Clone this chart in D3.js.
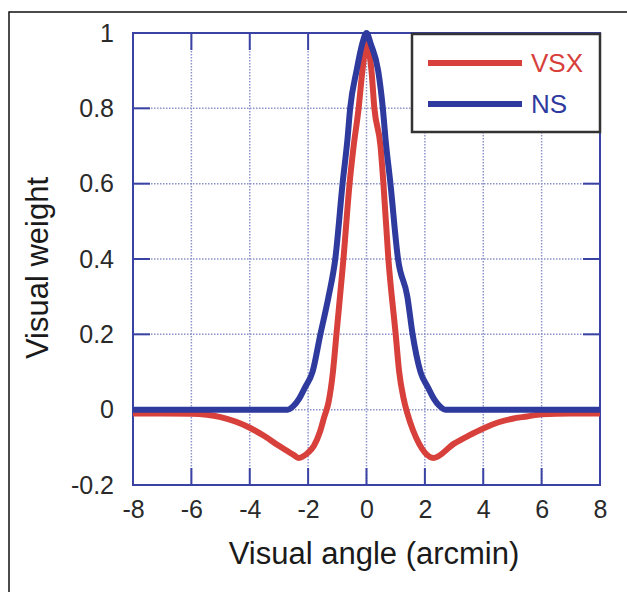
<!DOCTYPE html>
<html>
<head>
<meta charset="utf-8">
<script src="https://cdn.jsdelivr.net/npm/d3@7"></script>
<style>
  html, body { margin: 0; padding: 0; background: #fff; }
  svg { display: block; font-family: "Liberation Sans", Arial, Helvetica, sans-serif; }
</style>
</head>
<body>
<svg id="chart" width="627" height="592"></svg>
<script>
// tick values
const xTicks = [-8, -6, -4, -2, 0, 2, 4, 6, 8];
const yTicks = [-0.2, 0, 0.2, 0.4, 0.6, 0.8, 1];

// NS (blue)
const nsX = [-8, -6, -4, -3, -2.7, -2.5, -2.3, -2.1, -1.85, -1.58, -1.3, -1.07, -0.82, -0.65, -0.56, -0.34, -0.15, 0,
  0.15, 0.4, 0.56, 0.65, 0.82, 1.08, 1.4, 1.58, 1.85, 2.1, 2.3, 2.5, 2.7, 3, 4, 6, 8];
const nsY = [0, 0, 0, 0, 0, 0.01, 0.03, 0.06, 0.1, 0.2, 0.3, 0.4, 0.6, 0.72, 0.8, 0.9, 0.97, 1.0,
  0.97, 0.9, 0.8, 0.72, 0.6, 0.4, 0.3, 0.2, 0.1, 0.06, 0.03, 0.01, 0, 0, 0, 0, 0];

// VSX (red)
const vsxX = [-8, -7, -6, -5, -4, -3.5, -3, -2.5, -2.33, -2, -1.8, -1.6, -1.45, -1.3, -1.15, -1.03, -0.79, -0.58, -0.44, -0.27, -0.14, 0,
  0.17, 0.27, 0.48, 0.58, 0.75, 1.0, 1.12, 1.27, 1.4, 1.6, 1.8, 2, 2.3, 3, 3.5, 4, 4.5, 5, 5.5, 6, 7, 8];
const vsxY = [-0.01, -0.01, -0.011, -0.02, -0.048, -0.07, -0.096, -0.12, -0.128, -0.114, -0.096, -0.06, -0.02, 0.02, 0.1, 0.2, 0.4, 0.6, 0.7, 0.8, 0.9, 0.97,
  0.9, 0.8, 0.7, 0.6, 0.4, 0.2, 0.1, 0.03, -0.01, -0.056, -0.09, -0.114, -0.128, -0.09, -0.069, -0.05, -0.034, -0.024, -0.018, -0.012, -0.01, -0.01];

const seriesNames = ['VSX', 'NS'];
const seriesColors = ['#d8403b', '#2f3a9e'];

const svg = d3.select('#chart');
const plotL = 133, plotR = 600, plotT = 33, plotB = 485;
const axisColor = '#3a43a4';

const x = d3.scaleLinear().domain([-8, 8]).range([plotL, plotR]);
const y = d3.scaleLinear().domain([-0.2, 1]).range([plotB, plotT]);
const fmt = (d) => (Math.abs(d) < 1e-9 ? '0' : String(+d.toFixed(1)));

// outer frame
svg.append('rect')
  .attr('x', 9).attr('y', 12).attr('width', 700).attr('height', 700)
  .attr('fill', 'none').attr('stroke', '#111').attr('stroke-width', 1.5);

// dotted grid
const grid = svg.append('g');
grid.selectAll('line.vg')
  .data(xTicks.slice(1, -1))
  .join('line')
  .attr('class', 'vg')
  .attr('x1', (d) => x(d)).attr('x2', (d) => x(d))
  .attr('y1', plotT).attr('y2', plotB);
grid.selectAll('line.hg')
  .data(yTicks.slice(1, -1))
  .join('line')
  .attr('class', 'hg')
  .attr('x1', plotL).attr('x2', plotR)
  .attr('y1', (d) => y(d)).attr('y2', (d) => y(d));
grid.selectAll('line')
  .attr('stroke', '#8c93c9').attr('stroke-width', 1.5).attr('stroke-dasharray', '1.5,1.5');

// inner ticks
const tl = 17;
const ticks = svg.append('g').attr('stroke', axisColor).attr('stroke-width', 2);
xTicks.slice(1, -1).forEach((d) => {
  ticks.append('line').attr('x1', x(d)).attr('x2', x(d)).attr('y1', plotB).attr('y2', plotB - tl);
  ticks.append('line').attr('x1', x(d)).attr('x2', x(d)).attr('y1', plotT).attr('y2', plotT + tl);
});
yTicks.slice(1, -1).forEach((d) => {
  ticks.append('line').attr('x1', plotL).attr('x2', plotL + tl).attr('y1', y(d)).attr('y2', y(d));
  ticks.append('line').attr('x1', plotR).attr('x2', plotR - tl).attr('y1', y(d)).attr('y2', y(d));
});

// plot frame
svg.append('rect')
  .attr('x', plotL).attr('y', plotT).attr('width', plotR - plotL).attr('height', plotB - plotT)
  .attr('fill', 'none').attr('stroke', axisColor).attr('stroke-width', 2);

// tick labels
const xAxisG = svg.append('g')
  .attr('transform', `translate(0,${plotB})`)
  .call(d3.axisBottom(x).tickValues(xTicks).tickSize(0).tickPadding(15).tickFormat(fmt));
xAxisG.select('.domain').remove();

const yAxisG = svg.append('g')
  .attr('transform', `translate(${plotL},0)`)
  .call(d3.axisLeft(y).tickValues(yTicks).tickSize(0).tickPadding(19).tickFormat(fmt));
yAxisG.select('.domain').remove();

[xAxisG, yAxisG].forEach((g) => {
  g.attr('font-size', 25).attr('font-family', '"Liberation Sans", Arial, sans-serif');
  g.selectAll('text').attr('fill', '#2a2a2a');
});

// axis titles
svg.append('text')
  .attr('x', 374).attr('y', 564)
  .attr('text-anchor', 'middle')
  .attr('font-size', 31).attr('fill', '#1a1a1a')
  .text('Visual angle (arcmin)');

svg.append('text')
  .attr('transform', 'translate(48,268) rotate(-90)')
  .attr('text-anchor', 'middle')
  .attr('font-size', 31).attr('fill', '#1a1a1a')
  .text('Visual weight');

// curves
const line = d3.line()
  .x((d) => x(d[0]))
  .y((d) => y(d[1]))
  .curve(d3.curveMonotoneX);

const vsxData = d3.zip(vsxX, vsxY);
const nsData = d3.zip(nsX, nsY);

svg.append('path')
  .datum(vsxData)
  .attr('d', line)
  .attr('fill', 'none').attr('stroke', seriesColors[0]).attr('stroke-width', 6)
  .attr('stroke-linejoin', 'round');

svg.append('path')
  .datum(nsData)
  .attr('d', line)
  .attr('fill', 'none').attr('stroke', seriesColors[1]).attr('stroke-width', 6)
  .attr('stroke-linejoin', 'round');

// legend
const legend = svg.append('g');
legend.append('rect')
  .attr('x', 412).attr('y', 34).attr('width', 188).attr('height', 98)
  .attr('fill', '#fff').attr('stroke', '#333').attr('stroke-width', 2.5);
seriesNames.forEach((name, i) => {
  const ly = 63 + i * 41;
  legend.append('line')
    .attr('x1', 428).attr('x2', 522).attr('y1', ly).attr('y2', ly)
    .attr('stroke', seriesColors[i]).attr('stroke-width', 6);
  legend.append('text')
    .attr('x', 531).attr('y', ly + 9)
    .attr('font-size', 26).attr('fill', seriesColors[i])
    .text(name);
});
</script>
</body>
</html>
